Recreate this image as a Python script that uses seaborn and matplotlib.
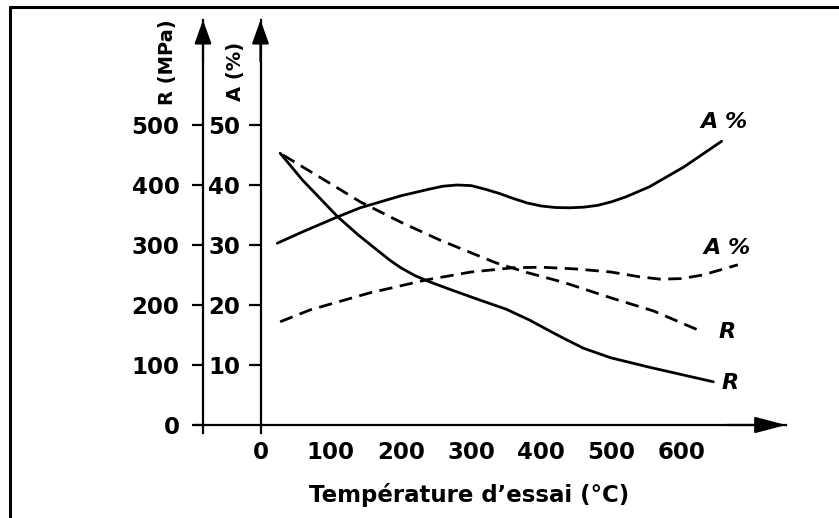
import matplotlib
matplotlib.use("Agg")
import matplotlib.pyplot as plt
from matplotlib.lines import Line2D
import pandas as pd
import seaborn as sns

# ---------------- data ----------------
# Resistance R (MPa), solid curve
r_solid_T = [28, 60, 110, 140, 171, 185, 200, 220, 240, 270, 313, 350, 383,
             410, 431, 460, 499, 555, 600, 645]
r_solid = [453, 408, 347, 316, 287, 274, 262, 249, 239, 226, 208, 193, 175,
           158, 145, 128, 112, 96, 84, 72]
# Resistance R (MPa), dashed curve
r_dash_T = [32, 100, 142, 200, 256, 300, 336, 380, 431, 499, 560, 630]
r_dash = [450, 402, 372, 338, 308, 287, 270, 254, 238, 212, 190, 155]
# Elongation A (%), solid curve
a_solid_T = [24, 60, 110, 142, 200, 240, 260, 280, 300, 320, 340, 359, 380,
             400, 420, 440, 460, 480, 500, 520, 554, 603, 657]
a_solid = [30.3, 32.2, 34.7, 36.2, 38.2, 39.3, 39.8, 40.0, 39.9, 39.3, 38.6,
           37.8, 37.0, 36.5, 36.25, 36.2, 36.3, 36.6, 37.2, 38.0, 39.7, 43.0,
           47.3]
# Elongation A (%), dashed curve
a_dash_T = [28, 71, 155, 237, 300, 359, 400, 450, 499, 540, 570, 600, 630, 680]
a_dash = [17.2, 19.2, 22.0, 24.2, 25.5, 26.2, 26.3, 26.0, 25.5, 24.7, 24.3,
          24.4, 25.0, 26.7]

x_ticks = [0, 100, 200, 300, 400, 500, 600]
r_ticks = [0, 100, 200, 300, 400, 500]
a_ticks = [10, 20, 30, 40, 50]

x_label = "Température d’essai (°C)"
r_label = "R (MPa)"
a_label = "A (%)"

# ---------------- style ----------------
sns.set_style("white")
plt.rcParams["font.family"] = ["DejaVu Sans"]
plt.rcParams["font.weight"] = "bold"
plt.rcParams["axes.labelcolor"] = "black"
plt.rcParams["text.color"] = "black"

W, H = 839, 518
fig = plt.figure(figsize=(W / 100, H / 100), dpi=100)
fig.patch.set_facecolor("white")

# axes box in pixels: x 195..786, y 20..433
left_px, right_px, top_px, bot_px = 195, 786, 20, 433
ax = fig.add_axes([left_px / W, 1 - bot_px / H,
                   (right_px - left_px) / W, (bot_px - top_px) / H])
ax.set_facecolor("white")

X0 = 260.5          # pixel of T = 0
SX = 0.702          # pixels per degree
Y0 = 425            # pixel of R = 0
SY = 0.6            # pixels per MPa
xlim = ((left_px - X0) / SX, (right_px - X0) / SX)
rlim = ((Y0 - bot_px) / SY, (Y0 - top_px) / SY)
r_axis_pos = (203 - X0) / SX

lw = 2.0
dash = (0, (4.8, 2.7))

df_rs = pd.DataFrame({"T": r_solid_T, "R": r_solid})
df_rd = pd.DataFrame({"T": r_dash_T, "R": r_dash})
sns.lineplot(data=df_rs, x="T", y="R", ax=ax, color="black", lw=lw,
             errorbar=None)
sns.lineplot(data=df_rd, x="T", y="R", ax=ax, color="black", lw=lw,
             ls=dash, errorbar=None)

ax_a = ax.twinx()
df_as = pd.DataFrame({"T": a_solid_T, "A": a_solid})
df_ad = pd.DataFrame({"T": a_dash_T, "A": a_dash})
sns.lineplot(data=df_as, x="T", y="A", ax=ax_a, color="black", lw=lw,
             errorbar=None)
sns.lineplot(data=df_ad, x="T", y="A", ax=ax_a, color="black", lw=lw,
             ls=dash, errorbar=None)
for line in ax.get_lines() + ax_a.get_lines():
    line.set_solid_capstyle("round")
    line.set_solid_joinstyle("round")

ax.set_xlim(*xlim)
ax.set_ylim(*rlim)
ax_a.set_ylim(rlim[0] / 10, rlim[1] / 10)

# ---- primary axes: R axis + temperature axis ----
for s in ["top", "right"]:
    ax.spines[s].set_visible(False)
ax.spines["left"].set_position(("data", r_axis_pos))
ax.spines["bottom"].set_position(("data", 0))
for s in ["left", "bottom"]:
    ax.spines[s].set_linewidth(1.6)
    ax.spines[s].set_color("black")
ax.set_xticks(x_ticks)
ax.set_xticklabels([str(v) for v in x_ticks])
ax.set_yticks(r_ticks)
ax.set_yticklabels([str(v) for v in r_ticks])
ax.tick_params(axis="x", direction="out", length=7.5, width=1.6,
               pad=4, labelsize=16.5, colors="black")
ax.tick_params(axis="y", direction="out", length=8, width=1.6,
               pad=9, labelsize=16.5, colors="black")
for t in ax.get_xticklabels() + ax.get_yticklabels():
    t.set_fontweight("bold")

ax.set_xlabel(x_label, fontsize=16.5, fontweight="bold", va="center",
              color="black")
ax.xaxis.set_label_coords((469 - left_px) / (right_px - left_px),
                          (bot_px - 495) / (bot_px - top_px))
ax.set_ylabel(r_label, fontsize=14, fontweight="bold", va="center",
              ha="center", color="black")
ax.yaxis.set_label_coords((168 - left_px) / (right_px - left_px),
                          (bot_px - 62) / (bot_px - top_px))

# ---- A axis (at T = 0) ----
for s in ["top", "right", "bottom"]:
    ax_a.spines[s].set_visible(False)
ax_a.spines["left"].set_visible(True)
ax_a.spines["left"].set_position(("data", 0))
ax_a.spines["left"].set_linewidth(1.6)
ax_a.spines["left"].set_color("black")
ax_a.yaxis.set_ticks_position("left")
ax_a.yaxis.set_label_position("left")
ax_a.set_yticks(a_ticks)
ax_a.set_yticklabels([str(v) for v in a_ticks])
ax_a.tick_params(axis="y", direction="out", length=8.5, width=1.6,
                 pad=6, labelsize=16.5, colors="black")
for t in ax_a.get_yticklabels():
    t.set_fontweight("bold")
ax_a.set_ylabel(a_label, fontsize=14, fontweight="bold", va="center",
                ha="center", color="black")
ax_a.yaxis.set_label_coords((235 - left_px) / (right_px - left_px),
                            (bot_px - 71) / (bot_px - top_px))

# ---- axis arrowheads ----
arrow_v = dict(arrowstyle="-|>,head_length=1.45,head_width=0.52",
               mutation_scale=10, lw=1.6, color="black",
               shrinkA=0, shrinkB=0)
for xpos in [r_axis_pos, 0]:
    ax.annotate("", xy=(xpos, 1), xycoords=("data", "axes fraction"),
                xytext=(xpos, 0.9), textcoords=("data", "axes fraction"),
                arrowprops=arrow_v, annotation_clip=False)
arrow_h = dict(arrowstyle="-|>,head_length=1.9,head_width=0.5",
               mutation_scale=10, lw=1.6, color="black",
               shrinkA=0, shrinkB=0)
ax.annotate("", xy=(1, 0), xycoords=("axes fraction", "data"),
            xytext=(0.9, 0), textcoords=("axes fraction", "data"),
            arrowprops=arrow_h, annotation_clip=False)

# ---- curve labels ----
lab_kw = dict(fontsize=16, fontweight="bold", ha="center", va="center",
              color="black")
def curve_label(px, py, txt):
    ax.text((px - X0) / SX, (Y0 - py) / SY, txt, style="italic", **lab_kw)

curve_label(724, 122, "A %")
curve_label(727, 248, "A %")
curve_label(727, 332, "R")
curve_label(730, 383, "R")

# ---- page frame (left and top rules) ----
fig.add_artist(Line2D([10 / W, 10 / W], [0, 1 - 7 / H], color="black",
                      lw=2.2, transform=fig.transFigure))
fig.add_artist(Line2D([10 / W, 1], [1 - 7 / H, 1 - 7 / H], color="black",
                      lw=2.2, transform=fig.transFigure))

fig.savefig("out.png", dpi=100, facecolor="white")
